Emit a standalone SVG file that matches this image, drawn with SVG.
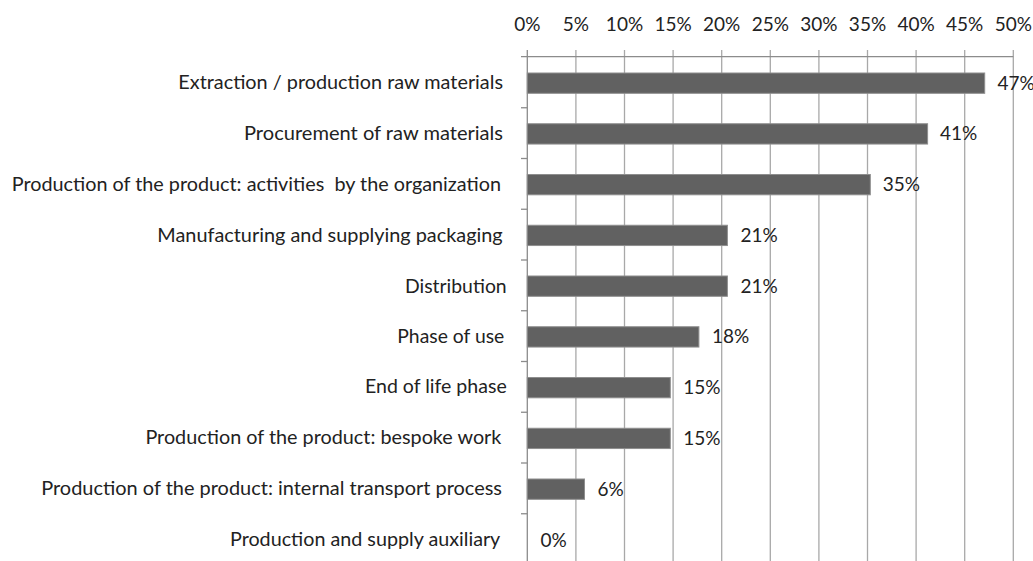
<svg xmlns="http://www.w3.org/2000/svg" width="1033" height="561" viewBox="0 0 1033 561">
<style>
text{font-family:Lato,"Open Sans","Liberation Sans",sans-serif;font-size:19px;fill:#222}
.cat{text-anchor:end}
.ax{text-anchor:middle}
.grid{stroke:#a8a8a8;stroke-width:1.3}
.axis{stroke:#8c8c8c;stroke-width:1.3}
.bar{fill:#616161;stroke:#8e8e8e;stroke-width:1}
</style>
<rect width="1033" height="561" fill="#fff"/>
<g id="gridlines">
<line class="grid" x1="575.9" y1="50" x2="575.9" y2="561"/>
<line class="grid" x1="624.5" y1="50" x2="624.5" y2="561"/>
<line class="grid" x1="673.1" y1="50" x2="673.1" y2="561"/>
<line class="grid" x1="721.7" y1="50" x2="721.7" y2="561"/>
<line class="grid" x1="770.3" y1="50" x2="770.3" y2="561"/>
<line class="grid" x1="818.9" y1="50" x2="818.9" y2="561"/>
<line class="grid" x1="867.5" y1="50" x2="867.5" y2="561"/>
<line class="grid" x1="916.1" y1="50" x2="916.1" y2="561"/>
<line class="grid" x1="964.7" y1="50" x2="964.7" y2="561"/>
<line class="grid" x1="1013.3" y1="50" x2="1013.3" y2="561"/>
</g>
<g id="axes">
<line class="axis" x1="521" y1="56.7" x2="1013.3" y2="56.7"/>
<line class="axis" x1="527.3" y1="50" x2="527.3" y2="561"/>
<line class="axis" x1="521" y1="107.75" x2="527.3" y2="107.75"/>
<line class="axis" x1="521" y1="158.5" x2="527.3" y2="158.5"/>
<line class="axis" x1="521" y1="209.25" x2="527.3" y2="209.25"/>
<line class="axis" x1="521" y1="260" x2="527.3" y2="260"/>
<line class="axis" x1="521" y1="310.75" x2="527.3" y2="310.75"/>
<line class="axis" x1="521" y1="361.5" x2="527.3" y2="361.5"/>
<line class="axis" x1="521" y1="412.25" x2="527.3" y2="412.25"/>
<line class="axis" x1="521" y1="463" x2="527.3" y2="463"/>
<line class="axis" x1="521" y1="513.75" x2="527.3" y2="513.75"/>
</g>
<g id="axis-labels">
<text class="ax" x="527.3" y="31">0%</text>
<text class="ax" x="575.9" y="31">5%</text>
<text class="ax" x="624.5" y="31">10%</text>
<text class="ax" x="673.1" y="31">15%</text>
<text class="ax" x="721.7" y="31">20%</text>
<text class="ax" x="770.3" y="31">25%</text>
<text class="ax" x="818.9" y="31">30%</text>
<text class="ax" x="867.5" y="31">35%</text>
<text class="ax" x="916.1" y="31">40%</text>
<text class="ax" x="964.7" y="31">45%</text>
<text class="ax" x="1013.3" y="31">50%</text>
</g>
<g id="row1">
<text class="cat" x="503" y="89" textLength="324.7" lengthAdjust="spacingAndGlyphs">Extraction / production raw materials</text>
<rect class="bar" x="527.3" y="73" width="457.4" height="20.3"/>
<text x="997.5" y="89.5">47%</text>
</g>
<g id="row2">
<text class="cat" x="503" y="140" textLength="259" lengthAdjust="spacingAndGlyphs">Procurement of raw materials</text>
<rect class="bar" x="527.3" y="123.75" width="400.3" height="20.3"/>
<text x="940" y="140.25">41%</text>
</g>
<g id="row3">
<text class="cat" x="501" y="190.5" textLength="489.3" lengthAdjust="spacingAndGlyphs" xml:space="preserve">Production of the product: activities  by the organization</text>
<rect class="bar" x="527.3" y="174.5" width="343" height="20.3"/>
<text x="882.7" y="191">35%</text>
</g>
<g id="row4">
<text class="cat" x="502.7" y="241.5" textLength="345.4" lengthAdjust="spacingAndGlyphs">Manufacturing and supplying packaging</text>
<rect class="bar" x="527.3" y="225.25" width="200.1" height="20.3"/>
<text x="740.5" y="241.75">21%</text>
</g>
<g id="row5">
<text class="cat" x="506.7" y="292.5" textLength="101.7" lengthAdjust="spacingAndGlyphs">Distribution</text>
<rect class="bar" x="527.3" y="276" width="200.1" height="20.3"/>
<text x="740.5" y="292.5">21%</text>
</g>
<g id="row6">
<text class="cat" x="504.3" y="342.8" textLength="107" lengthAdjust="spacingAndGlyphs">Phase of use</text>
<rect class="bar" x="527.3" y="326.75" width="171.6" height="20.3"/>
<text x="712" y="343.25">18%</text>
</g>
<g id="row7">
<text class="cat" x="506.7" y="393" textLength="141.7" lengthAdjust="spacingAndGlyphs">End of life phase</text>
<rect class="bar" x="527.3" y="377.5" width="143" height="20.3"/>
<text x="683.3" y="394">15%</text>
</g>
<g id="row8">
<text class="cat" x="501.4" y="444" textLength="356" lengthAdjust="spacingAndGlyphs">Production of the product: bespoke work</text>
<rect class="bar" x="527.3" y="428.25" width="143" height="20.3"/>
<text x="683.3" y="444.75">15%</text>
</g>
<g id="row9">
<text class="cat" x="502" y="495" textLength="460.8" lengthAdjust="spacingAndGlyphs">Production of the product: internal transport process</text>
<rect class="bar" x="527.3" y="479" width="57.2" height="20.3"/>
<text x="597.5" y="495.5">6%</text>
</g>
<g id="row10">
<text class="cat" x="500.3" y="546" textLength="270.3" lengthAdjust="spacingAndGlyphs">Production and supply auxiliary</text>
<text x="540.5" y="546.5">0%</text>
</g>
</svg>
